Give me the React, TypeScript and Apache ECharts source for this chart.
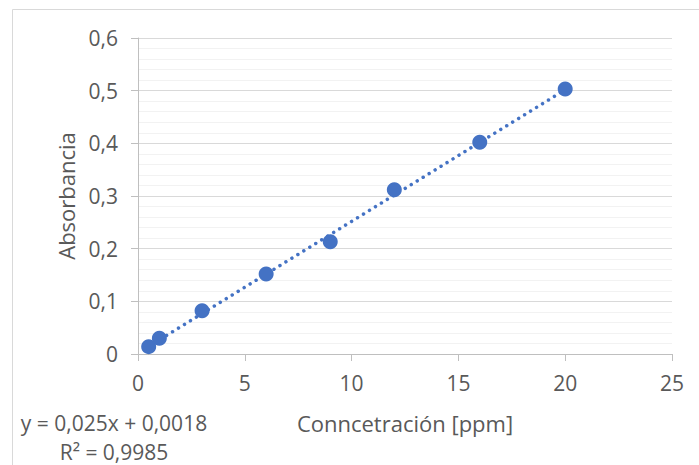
import React, { useEffect, useRef } from "react";
import * as echarts from "echarts";

const concentration = [0.5, 1, 3, 6, 9, 12, 16, 20];
const absorbance = [0.014, 0.03, 0.082, 0.152, 0.213, 0.312, 0.402, 0.503];
const trendSlope = 0.025;
const trendIntercept = 0.0018;
const equationLines = ["y = 0,025x + 0,0018", "R² = 0,9985"];
const xTitle = "Conncetración [ppm]";
const yTitle = "Absorbancia";

const FONT = "'Open Sans', sans-serif";
const TEXT = "#595959";
const BLUE = "#4472C4";

export default function App() {
  const ref = useRef<HTMLDivElement>(null);
  useEffect(() => {
    if (!ref.current) return;
    const chart = echarts.init(ref.current, null, { renderer: "svg" });
    const x0 = concentration[0];
    const x1 = concentration[concentration.length - 1];
    const trend = [
      [x0, trendSlope * x0 + trendIntercept],
      [x1, trendSlope * x1 + trendIntercept],
    ];
    const fmt = (v: number) => String(Math.round(v * 10) / 10).replace(".", ",");
    chart.setOption({
      animation: false,
      backgroundColor: "#ffffff",
      grid: { left: 138, right: 27, top: 38, bottom: 111, containLabel: false },
      xAxis: {
        type: "value",
        min: 0,
        max: 25,
        interval: 5,
        name: xTitle,
        nameLocation: "middle",
        nameGap: 58,
        nameTextStyle: { color: TEXT, fontFamily: FONT, fontSize: 22 },
        axisLine: { show: true, lineStyle: { color: "#bfbfbf", width: 1 } },
        axisTick: { show: true, length: 7, lineStyle: { color: "#bfbfbf" } },
        axisLabel: { color: TEXT, fontFamily: FONT, fontSize: 21, margin: 18, formatter: fmt },
        splitLine: { show: false },
      },
      yAxis: {
        type: "value",
        min: 0,
        max: 0.6,
        interval: 0.1,
        name: yTitle,
        nameLocation: "middle",
        nameGap: 61,
        nameRotate: 90,
        nameTextStyle: { color: TEXT, fontFamily: FONT, fontSize: 22 },
        axisLine: { show: true, lineStyle: { color: "#bfbfbf", width: 1 } },
        axisTick: { show: true, length: 7, lineStyle: { color: "#bfbfbf" } },
        axisLabel: { color: TEXT, fontFamily: FONT, fontSize: 21, margin: 20, formatter: fmt },
        splitLine: { show: true, lineStyle: { color: "#d9d9d9", width: 1 } },
        minorTick: { show: false, splitNumber: 5 },
        minorSplitLine: { show: true, lineStyle: { color: "#f2f2f2", width: 1 } },
      },
      series: [
        {
          type: "line",
          data: trend,
          symbol: "none",
          lineStyle: { color: BLUE, width: 3.5, type: [0.01, 7], cap: "round" },
          z: 2,
          silent: true,
        },
        {
          type: "scatter",
          data: concentration.map((c, i) => [c, absorbance[i]]),
          symbol: "circle",
          symbolSize: 15,
          itemStyle: { color: BLUE, opacity: 1 },
          z: 3,
        },
      ],
      graphic: [
        {
          type: "rect",
          shape: { x: 12.5, y: 9.5, width: 720, height: 480 },
          style: { fill: "none", stroke: "#d9d9d9", lineWidth: 1 },
          silent: true,
        },
        {
          type: "text",
          x: 114,
          y: 423,
          style: {
            text: equationLines[0],
            fill: TEXT,
            font: `21px ${FONT}`,
            textAlign: "center",
            textVerticalAlign: "middle",
          },
        },
        {
          type: "text",
          x: 114,
          y: 452,
          style: {
            text: equationLines[1],
            fill: TEXT,
            font: `21px ${FONT}`,
            textAlign: "center",
            textVerticalAlign: "middle",
          },
        },
      ],
    });
    return () => chart.dispose();
  }, []);
  return <div ref={ref} style={{ width: 699, height: 465, position: "absolute", left: 0, top: 0 }} />;
}
